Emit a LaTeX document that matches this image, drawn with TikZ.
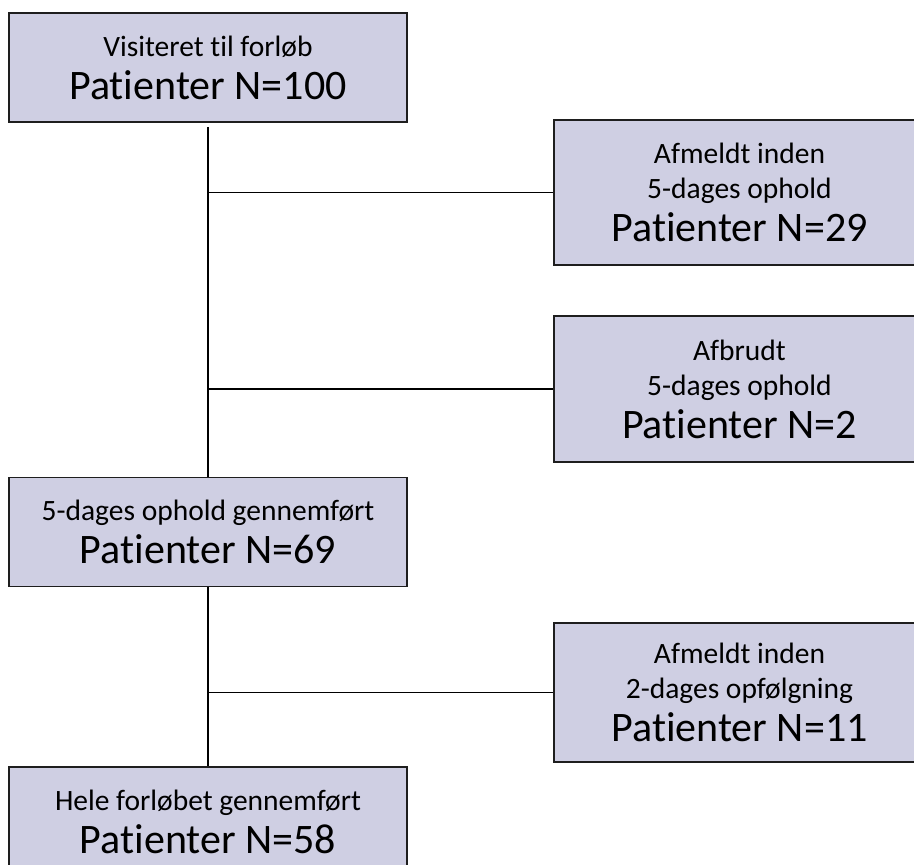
\documentclass[tikz,border=0pt]{standalone}
\usepackage{fontspec}
\setmainfont[Ligatures=NoCommon]{Carlito}
\usetikzlibrary{positioning}
\definecolor{flowfill}{RGB}{207,207,227}
\definecolor{flowline}{RGB}{30,30,30}
\newcommand{\headtxt}{\fontsize{29.5}{35}\selectfont}
\newcommand{\counttxt}{\fontsize{42}{47}\selectfont}
\tikzset{
  %% ---- boxes ----
  mainbox/.style = {rectangle, draw=flowline, line width=1.6pt,
                    fill=flowfill, minimum width=398pt, minimum height=109pt,
                    align=center, font=\headtxt, inner sep=0pt},
  sidebox/.style = {rectangle, draw=flowline, line width=1.6pt,
                    fill=flowfill, minimum width=371pt, minimum height=#1,
                    align=center, font=\headtxt, inner sep=0pt},
  sidebox/.default = 145pt,
  %% ---- lines ----
  link/.style = {line width=1.5pt, color=black},
}

\begin{document}
\begin{tikzpicture}[x=1pt, y=-1pt]
\useasboundingbox (0,0) rectangle (914,865);
\clip (0,0) rectangle (914,865);
\node[mainbox] (visit) at (208,67.5)
  {Visiteret til forløb\\[8pt]{\counttxt Patienter N=100}};
\node[mainbox, below=354pt of visit] (stay)
  {5-dages ophold gennemført\\[8pt]{\counttxt Patienter N=69}};
\node[mainbox, below=179pt of stay] (done)
  {Hele forløbet gennemført\\[8pt]{\counttxt Patienter N=58}};
\node[sidebox] (cancel) at (739.5,192.5)
  {Afmeldt inden\\5-dages ophold\\[8pt]{\counttxt Patienter N=29}};
\node[sidebox=146pt] (abort) at (739.5,389)
  {Afbrudt\\5-dages ophold\\[8pt]{\counttxt Patienter N=2}};
\node[sidebox=139pt] (cancelfu) at (739.5,692.5)
  {Afmeldt inden\\2-dages opfølgning\\[8pt]{\counttxt Patienter N=11}};
% branch points on the trunk
\coordinate (j1) at (visit.south |- cancel.west);
\coordinate (j2) at (visit.south |- abort.west);
\coordinate (j3) at (stay.south |- cancelfu.west);
\draw[link] ([yshift=-4pt]visit.south) -- (stay.north);
\draw[link] (stay.south) -- (done.north);
\draw[link] (j1) -- (cancel.west);
\draw[link] (j2) -- (abort.west);
\draw[link] (j3) -- (cancelfu.west);
\end{tikzpicture}
\end{document}
